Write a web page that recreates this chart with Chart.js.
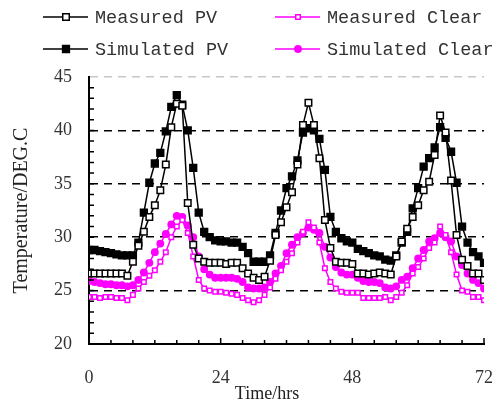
<!DOCTYPE html>
<html>
<head>
<meta charset="utf-8">
<script src="https://cdn.jsdelivr.net/npm/chart.js@4.4.0/dist/chart.umd.min.js"></script>
<style>
  html, body { margin: 0; padding: 0; background: #fff; }
  canvas { display: block; }
</style>
</head>
<body>
<canvas id="chart" width="497" height="404"></canvas>
<script>
// hourly readings, 0..72 h
const hours = Array.from({ length: 73 }, (_, i) => i);

const measuredPV = [
  26.6, 26.6, 26.6, 26.6, 26.6, 26.6, 26.6, 26.4, 27.7, 29.2, 30.5, 31.9, 33.0, 34.4, 36.8, 40.3,
  42.5, 42.3, 33.2, 29.3, 28.0, 27.7, 27.6, 27.6, 27.6, 27.5, 27.6, 27.6, 27.1, 26.6, 26.2, 26.0,
  26.3, 27.8, 30.2, 31.4, 32.8, 34.2, 36.8, 40.5, 42.6, 40.5, 37.4, 31.6, 29.0, 27.7, 27.6, 27.6,
  27.5, 26.6, 26.6, 26.5, 26.6, 26.7, 26.6, 26.5, 28.2, 29.6, 30.8, 31.9, 33.0, 34.4, 35.2, 37.7,
  41.4, 39.8, 35.3, 30.2, 27.9, 27.3, 26.6, 26.6, 26.0
];
const simulatedPV = [
  28.8, 28.8, 28.7, 28.6, 28.5, 28.4, 28.3, 28.3, 28.3, 29.5, 32.3, 35.1, 36.9, 37.9, 39.9, 42.2,
  43.3, 42.4, 40.0, 36.5, 32.3, 30.5, 30.0, 29.7, 29.6, 29.6, 29.5, 29.5, 29.1, 28.5, 27.7, 27.7,
  27.7, 28.3, 30.4, 32.5, 34.6, 35.7, 37.2, 39.8, 40.2, 40.0, 39.2, 36.3, 31.9, 30.5, 29.9, 29.6,
  29.5, 28.9, 28.7, 28.5, 28.3, 28.2, 27.9, 27.8, 28.3, 29.5, 30.5, 32.7, 34.6, 36.6, 37.4, 38.4,
  40.3, 39.3, 38.0, 35.1, 31.0, 29.5, 28.6, 28.2, 27.6
];
const measuredClear = [
  24.4, 24.4, 24.3, 24.4, 24.4, 24.3, 24.3, 24.1, 24.6, 25.2, 25.8, 26.4, 26.9, 27.7, 28.6, 30.0,
  31.0, 31.6, 30.4, 28.2, 26.0, 25.2, 25.0, 24.9, 24.9, 24.8, 24.7, 24.6, 24.3, 24.1, 23.9, 24.1,
  24.6, 25.3, 26.1, 26.9, 27.7, 28.5, 29.5, 30.5, 31.4, 30.9, 29.5, 27.1, 25.8, 25.2, 24.9, 24.8,
  24.8, 24.8, 24.3, 24.3, 24.3, 24.3, 24.4, 24.1, 24.4, 24.8, 25.5, 26.6, 27.2, 28.0, 29.0, 29.5,
  31.0, 30.2, 28.6, 26.5, 25.0, 24.9, 24.4, 24.4, 24.1
];
const simulatedClear = [
  25.9, 25.8, 25.7, 25.6, 25.6, 25.5, 25.5, 25.4, 25.5, 26.0, 26.7, 27.6, 28.6, 29.4, 30.3, 31.2,
  32.0, 31.9, 31.1, 30.0, 28.2, 27.0, 26.5, 26.2, 26.2, 26.2, 26.2, 26.1, 25.8, 25.3, 25.2, 25.2,
  25.3, 25.8, 26.6, 27.3, 28.5, 29.3, 30.0, 30.4, 30.9, 30.7, 30.4, 29.1, 28.1, 27.2, 26.7, 26.5,
  26.5, 26.2, 25.9, 25.8, 25.8, 25.7, 25.3, 25.2, 25.4, 26.0, 26.3, 27.1, 28.0, 28.8, 29.6, 29.9,
  30.4, 30.0, 29.6, 28.2, 27.4, 26.6, 26.0, 25.7, 25.2
];

const xTicks = [0, 24, 48, 72];
const yTicks = [20, 25, 30, 35, 40, 45];

const MAGENTA = '#ff00ff';
const SERIF = '"Liberation Serif", "Times New Roman", serif';

const pts = arr => arr.map((v, i) => ({ x: hours[i], y: v }));

function series(label, values, color, style, radius, fill) {
  return {
    label,
    data: pts(values),
    borderColor: color,
    borderWidth: 1.5,
    pointStyle: style,
    pointRadius: radius,
    pointBorderWidth: 1.5,
    pointBorderColor: color,
    pointBackgroundColor: fill,
    tension: 0
  };
}

// inward minor ticks, legend and x title
const extras = {
  id: 'extras',
  afterDraw(chart) {
    const { ctx, chartArea: a, scales: { x, y } } = chart;
    ctx.save();
    ctx.strokeStyle = '#000';
    ctx.lineWidth = 1.5;
    ctx.beginPath();
    for (let v = 21; v < 45; v++) {
      const py = y.getPixelForValue(v);
      ctx.moveTo(a.left, py);
      ctx.lineTo(a.left + 5, py);
    }
    for (let h = 4; h <= 72; h += 4) {
      const px = x.getPixelForValue(h);
      const len = h % 24 === 0 ? 6 : 4;
      ctx.moveTo(px, a.bottom);
      ctx.lineTo(px, a.bottom - len);
    }
    ctx.stroke();

    // legend, 2 x 2
    ctx.font = '18.5px "Liberation Mono", monospace';
    ctx.textBaseline = 'middle';
    chart.data.datasets.forEach((ds, i) => {
      const col = Math.floor(i / 2), row = i % 2;
      const x0 = col ? 275 : 43;
      const yy = row ? 49 : 17;
      ctx.strokeStyle = ds.borderColor;
      ctx.lineWidth = 1.5;
      ctx.beginPath();
      ctx.moveTo(x0, yy);
      ctx.lineTo(x0 + 45, yy);
      ctx.stroke();
      const cx = x0 + 23;
      ctx.fillStyle = ds.pointBackgroundColor;
      ctx.beginPath();
      if (ds.pointStyle === 'circle') {
        ctx.arc(cx, yy, ds.pointRadius, 0, Math.PI * 2);
      } else {
        const s = ds.pointRadius * Math.SQRT1_2;
        ctx.rect(cx - s, yy - s, 2 * s, 2 * s);
      }
      ctx.fill();
      ctx.stroke();
      ctx.fillStyle = '#333';
      ctx.fillText(ds.label, x0 + 52, yy + 1);
    });

    ctx.font = '18px ' + SERIF;
    ctx.textAlign = 'center';
    ctx.fillStyle = '#222';
    ctx.fillText('Time/hrs', 267, 394);
    ctx.restore();
  }
};

new Chart(document.getElementById('chart'), {
  type: 'line',
  data: {
    datasets: [
      series('Measured PV', measuredPV, '#000', 'rect', 4.6, '#fff'),
      series('Simulated PV', simulatedPV, '#000', 'rect', 4.8, '#000'),
      series('Measured Clear', measuredClear, MAGENTA, 'rect', 3.2, '#fff'),
      series('Simulated Clear', simulatedClear, MAGENTA, 'circle', 3.2, MAGENTA)
    ]
  },
  options: {
    responsive: false,
    animation: false,
    layout: { padding: { top: 77, right: 13, left: 0, bottom: 0 } },
    plugins: { legend: { display: false }, tooltip: { enabled: false } },
    scales: {
      x: {
        type: 'linear',
        min: 0,
        max: 72,
        afterFit: s => { s.height = 60; s.paddingLeft = 0; s.paddingRight = 0; },
        afterBuildTicks: s => { s.ticks = xTicks.map(v => ({ value: v })); },
        grid: { display: false, drawTicks: false },
        border: { display: true, color: '#000', width: 2 },
        ticks: {
          padding: 23,
          maxRotation: 0,
          autoSkip: false,
          color: '#333',
          font: { family: SERIF, size: 18 }
        }
      },
      y: {
        min: 20,
        max: 45,
        afterFit: s => { s.width = 89; s.paddingTop = 0; s.paddingBottom = 0; },
        afterBuildTicks: s => { s.ticks = yTicks.map(v => ({ value: v })); },
        grid: {
          drawTicks: false,
          lineWidth: 1.5,
          color: c => c.tick.value === 20 ? 'rgba(0,0,0,0)' : (c.tick.value === 45 ? '#c8c8c8' : '#000')
        },
        border: { display: true, color: '#000', width: 2, dash: [8, 6] },
        ticks: {
          padding: 17,
          color: '#333',
          font: { family: SERIF, size: 18 }
        },
        title: {
          display: true,
          text: 'Temperature/DEG.C',
          color: '#222',
          font: { family: SERIF, size: 20 },
          padding: { top: 10, bottom: 0 }
        }
      }
    }
  },
  plugins: [extras]
});
</script>
</body>
</html>
